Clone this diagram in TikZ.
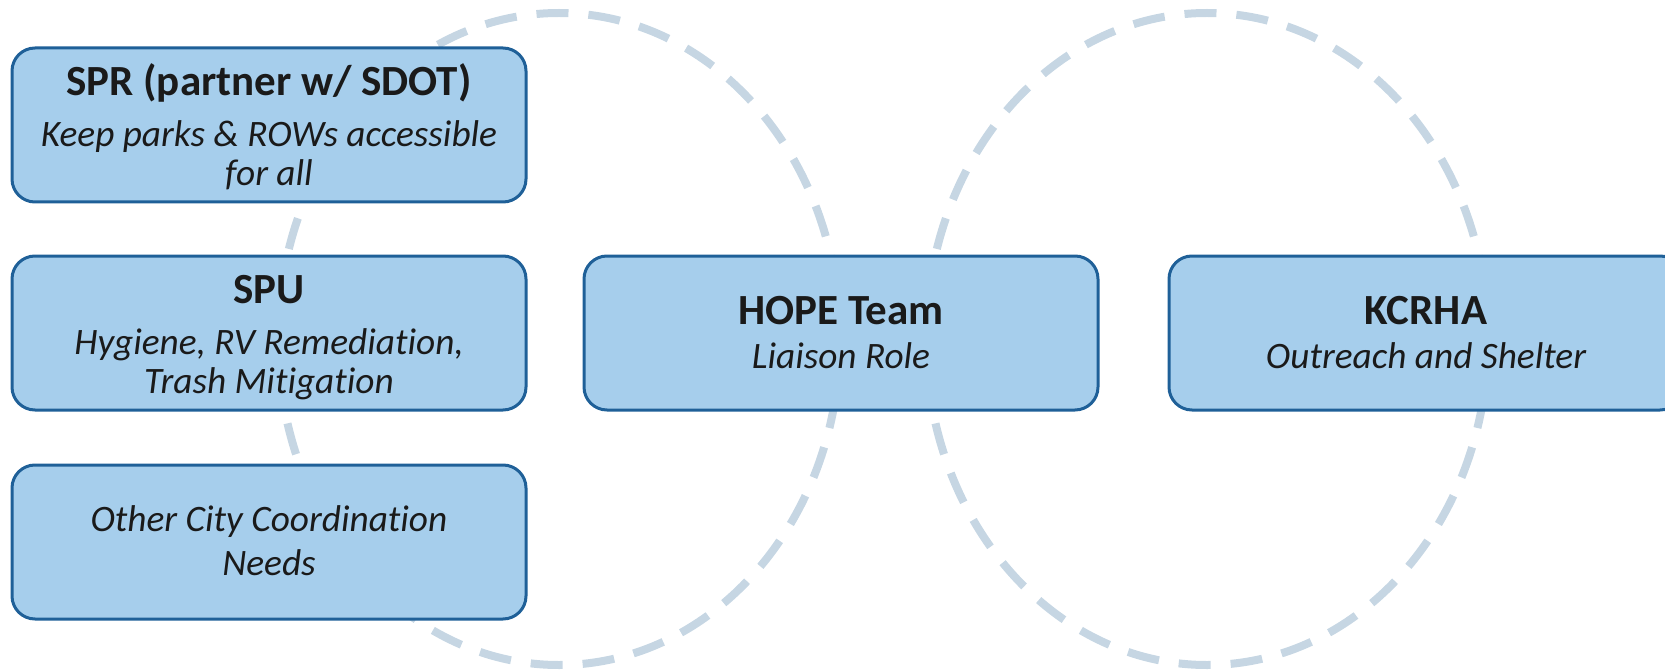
\documentclass[tikz,border=0pt]{standalone}
\usepackage{fontspec}
\usetikzlibrary{calc}
\setmainfont{Carlito}[Ligatures=NoCommon]
\definecolor{ringc}{HTML}{C6D6E3}
\definecolor{boxfill}{HTML}{A6CEEC}
\definecolor{boxedge}{HTML}{1F6098}
\definecolor{txt}{HTML}{1A1A1A}
\begin{document}
\begin{tikzpicture}[x=1pt,y=-1pt,
  ring/.style={draw=ringc,line width=8pt,dash pattern=on 32pt off 20pt},
  orgbox/.style={draw=boxedge,fill=boxfill,line width=3pt,rounded corners=23pt,
    minimum width=514pt,minimum height=154pt,inner sep=0pt},
  ttl/.style={anchor=base,inner sep=0pt,text=txt,font=\fontsize{43}{50}\selectfont\bfseries},
  sub/.style={anchor=base,inner sep=0pt,text=txt,font=\fontsize{37.3}{44}\selectfont\itshape}]
\useasboundingbox (0,0) rectangle (1665,671);
\clip (0,0) rectangle (1665,671);
% rings
\draw[ring] (559,339) ellipse [x radius=281pt,y radius=326pt];
\draw[ring] (1207,339) ellipse [x radius=281pt,y radius=326pt];
% boxes
\node[orgbox] (spr) at (269,125) {};
\node[orgbox] (spu) at (269,333) {};
\node[orgbox] (oth) at (269,542) {};
\node[orgbox] (hope) at (841,333) {};
\node[orgbox] (kcrha) at (1426,333) {};
% texts
\node[ttl] (sprT) at ($(spr.north)+(0,49)$) {SPR (partner w/ SDOT)};
\node[sub] (sprS1) at ($(spr.north)+(0,100)$) {Keep parks \& ROWs accessible};
\node[sub] (sprS2) at ($(spr.north)+(0,139)$) {for all};
\node[ttl] (spuT) at ($(spu.north)+(0,49)$) {SPU};
\node[sub] (spuS1) at ($(spu.north)+(0,100)$) {Hygiene, RV Remediation,};
\node[sub] (spuS2) at ($(spu.north)+(0,139)$) {Trash Mitigation};
\node[sub] (othS1) at ($(oth.north)+(0,67.5)$) {Other City Coordination};
\node[sub] (othS2) at ($(oth.north)+(0,112)$) {Needs};
\node[ttl] (hopeT) at ($(hope.north)+(0,69.5)$) {HOPE Team};
\node[sub] (hopeS) at ($(hope.north)+(0,114)$) {Liaison Role};
\node[ttl] (kcrhaT) at ($(kcrha.north)+(0,69.5)$) {KCRHA};
\node[sub] (kcrhaS) at ($(kcrha.north)+(0,114)$) {Outreach and Shelter};
\end{tikzpicture}
\end{document}
